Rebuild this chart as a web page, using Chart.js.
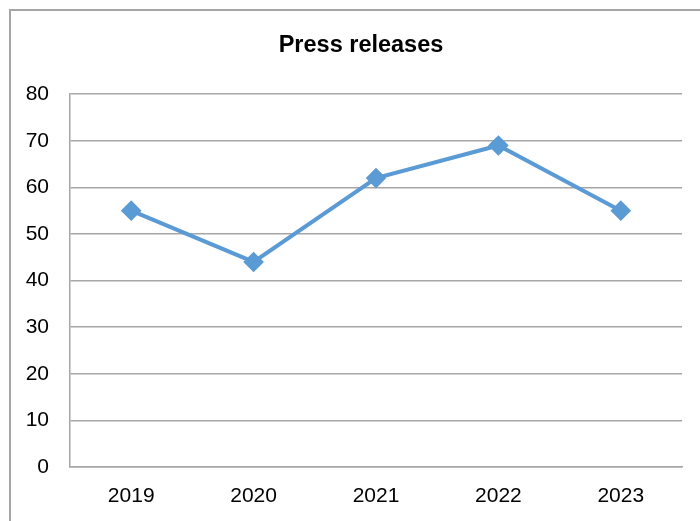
<!DOCTYPE html>
<html>
<head>
<meta charset="utf-8">
<title>Press releases</title>
<script src="https://cdn.jsdelivr.net/npm/chart.js@4"></script>
<style>
   html, body { margin: 0; padding: 0; background: #fff; overflow: hidden; }
   #wrap { position: relative; width: 700px; height: 521px; }
   #frame {
      position: absolute; left: 9px; top: 9px; width: 800px; height: 600px;
      border: 2px solid #a6a6a6;
   }
   #pressChart { position: absolute; left: 0; top: 0; }
</style>
</head>
<body>
<div id="wrap">
   <div id="frame"></div>
   <canvas id="pressChart" width="700" height="521"></canvas>
</div>
<script>
var years = ["2019", "2020", "2021", "2022", "2023"];
var pressReleases = [55, 44, 62, 69, 55];
var yMin = 0;
var yMax = 80;
var yStep = 10;

var labelFont = "'Liberation Sans', Arial, sans-serif";

var ctx = document.getElementById("pressChart").getContext("2d");

// centre the title over the outer frame instead of the whole canvas
var frameTitle = {
   id: "frameTitle",
   afterLayout: function (chart) {
      if (chart.titleBlock) {
         chart.titleBlock.left = 40;
         chart.titleBlock.right = 682;
      }
   },
};

var chart = new Chart(ctx, {
   type: "line",
   data: {
      labels: years,
      datasets: [
         {
            label: "Press releases",
            data: pressReleases,
            borderColor: "#5b9bd5",
            backgroundColor: "#5b9bd5",
            borderWidth: 4,
            pointStyle: "rectRot",
            pointRadius: 7.5,
            pointHoverRadius: 7.5,
            tension: 0,
            fill: false,
         },
      ],
   },
   options: {
      responsive: false,
      animation: false,
      layout: { padding: { left: 0, right: 18, top: 0, bottom: 0 } },
      plugins: {
         legend: { display: false },
         tooltip: { enabled: false },
         title: {
            display: true,
            text: "Press releases",
            color: "#000",
            font: { family: "'Liberation Sans', Arial, sans-serif", size: 23.5, weight: "bold" },
            padding: { top: 31, bottom: 35 },
         },
      },
      scales: {
         x: {
            offset: true,
            grid: { display: false, drawTicks: false },
            border: { display: true, color: "#a6a6a6", width: 1.5 },
            ticks: { color: "#000", font: { family: labelFont, size: 21 }, padding: 17, maxRotation: 0 },
            afterFit: function (scale) { scale.height = 54; },
         },
         y: {
            min: yMin,
            max: yMax,
            ticks: { stepSize: yStep, color: "#000", font: { family: labelFont, size: 21 }, padding: 21 },
            grid: { color: "#a6a6a6", lineWidth: 1.5, drawTicks: false },
            border: { display: true, color: "#a6a6a6", width: 1.5 },
            afterFit: function (scale) { scale.width = 70; },
         },
      },
   },
   plugins: [frameTitle],
});
</script>
</body>
</html>
